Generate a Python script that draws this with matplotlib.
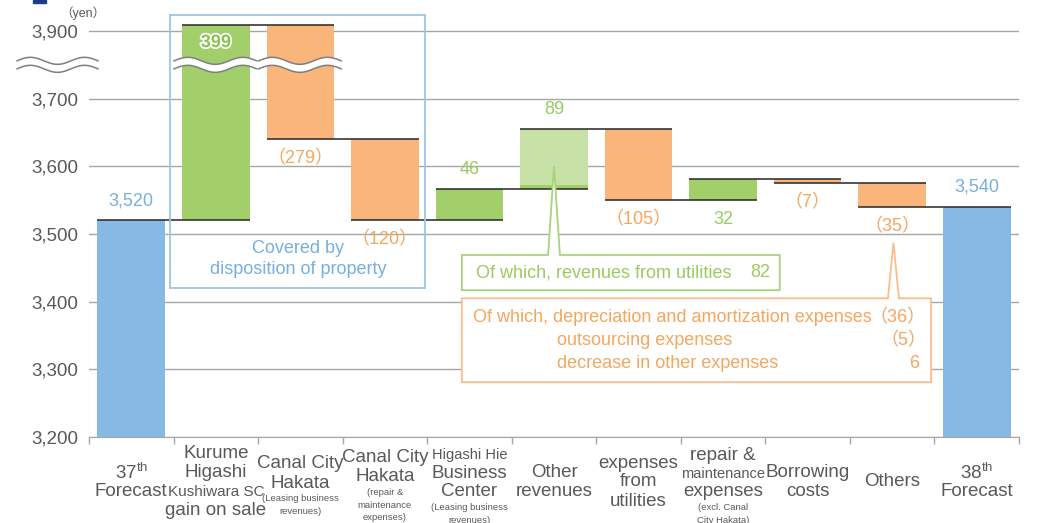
import numpy as np
import matplotlib
matplotlib.use('Agg')
import matplotlib.pyplot as plt
import matplotlib.patheffects as pe
from matplotlib.patches import Rectangle, Polygon
from matplotlib import font_manager, transforms

# ---------------- data ----------------
categories = ['37th Forecast', 'Kurume Higashi Kushiwara SC gain on sale',
              'Canal City Hakata (Leasing business revenues)',
              'Canal City Hakata (repair & maintenance expenses)',
              'Higashi Hie Business Center (Leasing business revenues)',
              'Other revenues', 'expenses from utilities',
              'repair & maintenance expenses (excl. Canal City Hakata)',
              'Borrowing costs', 'Others', '38th Forecast']
start_value = 3520
changes = [399, -279, -120, 46, 89, -105, 32, -7, -35]
end_value = 3540
utilities_revenue = 82          # part of "Other revenues" (89)
value_labels = ['3,520', '399', '（279）', '（120）', '46', '89', '（105）',
                '32', '（7）', '（35）', '3,540']
ytick_values = [3200, 3300, 3400, 3500, 3600, 3700, 3900]
ytick_labels = ['3,200', '3,300', '3,400', '3,500', '3,600', '3,700', '3,900']

# category tick label lines: (text, style)  L = large, M = medium, S = small
xtick_lines = [
    [('37$^{\\mathrm{th}}$', 'L'), ('Forecast', 'L')],
    [('Kurume', 'L'), ('Higashi', 'L'), ('Kushiwara SC', 'M'), ('gain on sale', 'L')],
    [('Canal City', 'L'), ('Hakata', 'L'), ('(Leasing business', 'S'), ('revenues)', 'S')],
    [('Canal City', 'L'), ('Hakata', 'L'), ('(repair &', 'S'), ('maintenance', 'S'), ('expenses)', 'S')],
    [('Higashi Hie', 'N'), ('Business', 'L'), ('Center', 'L'), ('(Leasing business', 'S'), ('revenues)', 'S')],
    [('Other', 'L'), ('revenues', 'L')],
    [('expenses', 'L'), ('from', 'L'), ('utilities', 'L')],
    [('repair &', 'L'), ('maintenance', 'N'), ('expenses', 'L'), ('(excl. Canal', 'S'), ('City Hakata)', 'S')],
    [('Borrowing', 'L'), ('costs', 'L')],
    [('Others', 'L')],
    [('38$^{\\mathrm{th}}$', 'L'), ('Forecast', 'L')],
]

box_note = ['Covered by', 'disposition of property']
utilities_note = ('Of which, revenues from utilities', '82')
expense_notes = [('Of which, depreciation and amortization expenses', '（36）'),
                 ('outsourcing expenses', '（5）'),
                 ('decrease in other expenses', '6')]

# ---------------- style ----------------
BLUE = '#86B9E3'
GREEN = '#A3CF6B'
LGREEN = '#C6E0A5'
ORANGE = '#FAB57A'
T_ORANGE = '#F5A65F'
T_GREEN = '#9ACB62'
T_BLUE = '#76B0E0'
E_BLUE = '#9CC5E8'
E_GREEN = '#A8D47C'
E_ORANGE = '#F9BE8C'
GRAY_T = '#595959'
GRID = '#A6A6A6'

names = {f.name for f in font_manager.fontManager.ttflist}
MAIN = 'Liberation Sans' if 'Liberation Sans' in names else 'DejaVu Sans'
NARROW = 'Liberation Sans Narrow' if 'Liberation Sans Narrow' in names else MAIN
FAM = [MAIN, 'Noto Sans CJK JP', 'DejaVu Sans']
plt.rcParams['font.family'] = FAM
plt.rcParams['mathtext.fontset'] = 'custom'
plt.rcParams['mathtext.rm'] = MAIN
plt.rcParams['mathtext.it'] = MAIN

W, H = 1038, 523
fig = plt.figure(figsize=(W / 100, H / 100), dpi=100)

BREAK = 3700
def fwd(v):
    v = np.asarray(v, dtype=float)
    return np.where(v <= BREAK, v, BREAK + (v - BREAK) * 0.5)
def inv(d):
    d = np.asarray(d, dtype=float)
    return np.where(d <= BREAK, d, BREAK + (d - BREAK) * 2.0)

ax = fig.add_axes([89 / W, (H - 437) / H, 930 / W, 426.3 / H])
ax.set_yscale('function', functions=(fwd, inv))
ax.set_ylim(3200, 3960)
ax.set_xlim(-0.5, 10.5)

# ---------------- waterfall ----------------
n = len(categories)
bw = 0.8
levels = [start_value]
cum = start_value
for c in changes:
    cum += c
    levels.append(cum)
levels.append(end_value)

ax.bar(0, start_value, bottom=0, width=bw, color=BLUE, zorder=2)
ax.bar(n - 1, end_value, bottom=0, width=bw, color=BLUE, zorder=2)
bar_tops, bar_bottoms = [start_value], [0]
cum = start_value
for i, c in enumerate(changes, start=1):
    lo, hi = min(cum, cum + c), max(cum, cum + c)
    if categories[i] == 'Other revenues':
        other = c - utilities_revenue
        ax.bar(i, other, bottom=cum, width=bw, color=GREEN, zorder=2)
        ax.bar(i, utilities_revenue, bottom=cum + other, width=bw, color=LGREEN, zorder=2)
    else:
        ax.bar(i, hi - lo, bottom=lo, width=bw, color=GREEN if c > 0 else ORANGE, zorder=2)
    bar_tops.append(hi)
    bar_bottoms.append(lo)
    cum += c
bar_tops.append(end_value)
bar_bottoms.append(0)

# connectors
for i in range(n - 1):
    ax.plot([i - bw / 2, i + 1 + bw / 2], [levels[i], levels[i]],
            color='#262626', lw=1.1, zorder=3, solid_capstyle='butt')

# value labels
for i, lab in enumerate(value_labels):
    if i == 0 or i == n - 1:
        col, y, off = T_BLUE, bar_tops[i], 14
    elif i == 1:
        col, y, off = '#8CC152', bar_tops[i], -13
    else:
        c = changes[i - 1]
        col = T_GREEN if c > 0 else T_ORANGE
        if c > 0 and categories[i] != 'repair & maintenance expenses (excl. Canal City Hakata)':
            y, off = bar_tops[i], 14
        else:
            y, off = bar_bottoms[i], -14
    t = ax.annotate(lab, (i, y), xytext=(0, off), textcoords='offset points',
                    ha='center', va='center', fontsize=13, color=col, zorder=6)
    if i == 1:
        t.set_fontweight('bold')
        t.set_path_effects([pe.Stroke(linewidth=2.5, foreground='white'), pe.Normal()])

# ---------------- axes styling ----------------
ax.set_yticks(ytick_values)
ax.set_yticklabels(ytick_labels)
ax.yaxis.set_minor_locator(matplotlib.ticker.NullLocator())
ax.tick_params(axis='y', length=0, pad=8, labelsize=13.5, labelcolor=GRAY_T)
ax.yaxis.grid(True, color=GRID, lw=1)
ax.set_axisbelow(True)
ax.set_xticks(np.arange(-0.5, n, 1.0))
ax.set_xticklabels([])
ax.tick_params(axis='x', length=5, width=1, color=GRID)
for s in ['left', 'top', 'right']:
    ax.spines[s].set_visible(False)
ax.spines['bottom'].set_color(GRID)

# category labels
sizes = {'L': 13.5, 'M': 11.0, 'N': 10.5, 'S': 6.8}
lh = {'L': 19.0, 'M': 19.0, 'N': 18.0, 'S': 12.5}
fams = {'L': FAM, 'M': [NARROW, MAIN], 'N': [NARROW, MAIN], 'S': [NARROW, MAIN]}
for i, lines in enumerate(xtick_lines):
    total = sum(lh[s] for _, s in lines)
    center = 486 if any(s == 'S' for _, s in lines) else 482
    ypx = center - total / 2
    for txt, s in lines:
        yc = ypx + lh[s] / 2
        ax.annotate(txt, (i, 0), xycoords=('data', 'axes fraction'),
                    xytext=(0, -(yc - 437) * 0.72), textcoords='offset points',
                    ha='center', va='center', fontsize=sizes[s], color=GRAY_T,
                    family=fams[s], annotation_clip=False)
        ypx += lh[s]

fig.text(83 / W, 1 - 13 / H, '（yen）', ha='center', va='center', fontsize=9,
         color=GRAY_T, family=FAM)
fig.add_artist(Rectangle((33 / W, 1 - 3 / H), 13 / W, 3 / H, transform=fig.transFigure,
                         color='#1F3C88'))

# ---------------- breaks (wavy) ----------------
def wave(x0, x1, yc):
    xs = np.linspace(x0, x1, 120)
    ph = 2 * np.pi * (xs - x0) / ((x1 - x0) / 1.5)
    up = yc + 4.0 + 3.5 * np.sin(ph)
    lo = yc - 4.0 + 3.5 * np.sin(ph)
    poly = np.vstack([np.column_stack([xs, up]), np.column_stack([xs[::-1], lo[::-1]])])
    fig.add_artist(Polygon(poly, closed=True, transform=transforms.IdentityTransform(),
                           facecolor='white', edgecolor='none', zorder=8))
    for yy in (up, lo):
        fig.add_artist(matplotlib.lines.Line2D(xs, yy, transform=transforms.IdentityTransform(),
                                               color='#7F7F7F', lw=1.1, zorder=9))

yc_break = ax.transData.transform((0, inv(3750)))[1]
ax_left = ax.transAxes.transform((0, 0))[0]
wave(ax_left - 72, ax_left + 9, yc_break)
for i in (1, 2):
    xl = ax.transData.transform((i - bw / 2, 0))[0]
    xr = ax.transData.transform((i + bw / 2, 0))[0]
    wave(xl - 8, xr + 7, yc_break)

# ---------------- notes ----------------
ax.add_patch(Rectangle((0.458, 3420), 3.474 - 0.458, 3947 - 3420, facecolor='none',
                       edgecolor=E_BLUE, lw=1.3, zorder=5, clip_on=False))
ax.text(1.97, 3479, box_note[0], ha='center', va='center', fontsize=13, color=T_BLUE, zorder=6)
ax.text(1.97, 3447, box_note[1], ha='center', va='center', fontsize=13, color=T_BLUE, zorder=6)

def callout(x0, x1, y0, y1, xl, xr, tip, ec):
    pts = [(x0, y0), (x1, y0), (x1, y1), (xr, y1), tip, (xl, y1), (x0, y1)]
    ax.add_patch(Polygon(pts, closed=True, facecolor='white', edgecolor=ec, lw=1.3,
                         zorder=7, clip_on=False, joinstyle='miter'))

# utilities note, pointing to the "Other revenues" bar
ov = categories.index('Other revenues')
callout(3.91, 7.67, 3417, 3469, ov - 0.07, ov + 0.07, (ov, 3600), E_GREEN)
ax.text(4.08, 3443, utilities_note[0], ha='left', va='center', fontsize=13, color=T_GREEN, zorder=8)
ax.text(7.56, 3443, utilities_note[1], ha='right', va='center', fontsize=13, color=T_GREEN, zorder=8)

# expense note, pointing to the "Others" bar label
oth = categories.index('Others')
callout(3.91, 9.46, 3281, 3405, oth - 0.05, oth + 0.08, (oth + 0.015, 3487), E_ORANGE)
ys = [3377, 3343, 3308]
xs_left = [4.04, 5.04, 5.04]
for (txt, val), yy, xl in zip(expense_notes, ys, xs_left):
    ax.text(xl, yy, txt, ha='left', va='center', fontsize=13, color=T_ORANGE, zorder=8)
    xr = 9.40 if val.startswith('（') else 9.32
    ax.text(xr, yy, val, ha='right', va='center', fontsize=13, color=T_ORANGE, zorder=8)

fig.savefig('out.png', dpi=100)
